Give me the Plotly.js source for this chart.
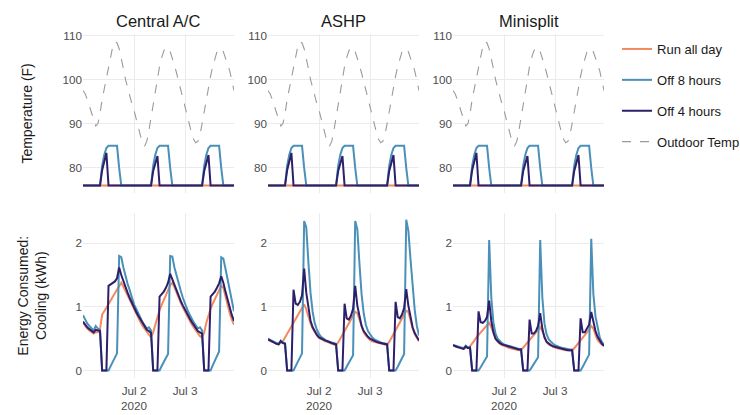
<!DOCTYPE html>
<html><head><meta charset="utf-8">
<script src="https://cdn.plot.ly/plotly-3.0.1.min.js"></script>
<style>html,body{margin:0;padding:0;background:#fff}#chart{width:740px;height:415px}</style>
</head><body><div id="chart"></div>
<script>
// ---------- data ----------
const systems = ['Central A/C', 'ASHP', 'Minisplit'];
const scenarios = ['Run all day', 'Off 8 hours', 'Off 4 hours'];
const outdoorName = 'Outdoor Temp';
const nHours = 72; // hourly, 2020-07-01 00:00 .. 2020-07-03 23:00
const xTickVals = ['2020-07-02 00:00', '2020-07-03 00:00'];
const xTickText = ['Jul 2<br>2020', 'Jul 3'];
const tempTicks = [80, 90, 100, 110];
const energyTicks = [0, 1, 2];

const outdoorTemp = [
  97.5,96.8,95.5,94,92.5,90.8, 89.5,90,92.3,95.5,98,100.5, 103,105.3,107.5,108.6,108.3,107, 105,102.5,100,98,96.2,94.5,
  93,91,89,87,85.5,85, 86,88.5,91.5,94.5,97.5,100.5, 103,105,106.5,107.3,107.2,106.3, 105,103.3,101.5,99.5,97.5,95.5,
  93.5,91.5,89.5,88,86.5,85.7, 86,87.5,90,92.8,95.5,98.2, 100.8,103,105,106.3,107,107, 106.3,105,103.5,102,99.8,97.5
];
const indoorRunAllDay = [
  76,76,76,76,76,76, 76,76,76,76,76,76, 76,76,76,76,76,76, 76,76,76,76,76,76,
  76,76,76,76,76,76, 76,76,76,76,76,76, 76,76,76,76,76,76, 76,76,76,76,76,76,
  76,76,76,76,76,76, 76,76,76,76,76,76, 76,76,76,76,76,76, 76,76,76,76,76,76
];
const indoorOff8 = [
  76,76,76,76,76,76, 76,76,76,80.5,83,84.5, 85,85,85,85,85,80, 76,76,76,76,76,76,
  76,76,76,76,76,76, 76,76,76,80.5,83,84.5, 85,85,85,85,85,80, 76,76,76,76,76,76,
  76,76,76,76,76,76, 76,76,76,80.5,83,84.5, 85,85,85,85,85,80, 76,76,76,76,76,76
];
const indoorOff4 = [
  76,76,76,76,76,76, 76,76,76,79.5,81.8,83.4, 76,76,76,76,76,76, 76,76,76,76,76,76,
  76,76,76,76,76,76, 76,76,76,79.3,81.3,82.7, 76,76,76,76,76,76, 76,76,76,76,76,76,
  76,76,76,76,76,76, 76,76,76,79.3,81.4,82.9, 76,76,76,76,76,76, 76,76,76,76,76,76
];

const centralRunAllDay = [
  0.75,0.70,0.66,0.63,0.60,0.58, 0.60,0.60,0.65,0.88,0.93,0.98, 1.04,1.10,1.16,1.22,1.28,1.34, 1.38,1.32,1.25,1.17,1.10,1.02,
  0.95,0.88,0.82,0.76,0.70,0.65, 0.60,0.55,0.52,0.60,0.72,0.85, 0.95,1.03,1.10,1.18,1.26,1.34, 1.38,1.31,1.22,1.14,1.06,0.99,
  0.92,0.85,0.79,0.73,0.68,0.63, 0.58,0.54,0.52,0.60,0.75,0.88, 0.97,1.05,1.12,1.20,1.27,1.33, 1.30,1.15,1.02,0.90,0.80,0.72
];
const centralOff8 = [
  0.87,0.80,0.74,0.70,0.66,0.63, 0.70,0.66,0.64,0,0,0, 0,0.07,0.14,0.20,0.27,1.80, 1.78,1.62,1.48,1.36,1.26,1.14,
  1.04,0.97,0.89,0.82,0.76,0.71, 0.66,0.68,0.63,0,0,0, 0,0.07,0.14,0.20,0.26,1.80, 1.79,1.62,1.48,1.36,1.25,1.14,
  1.04,0.96,0.89,0.82,0.76,0.71, 0.66,0.68,0.63,0,0,0, 0,0.08,0.15,0.22,0.30,1.78, 1.76,1.60,1.42,1.25,1.08,0.93
];
const centralOff4 = [
  0.77,0.72,0.68,0.65,0.62,0.60, 0.64,0.63,0.62,0,0,0, 1.33,1.35,1.37,1.40,1.45,1.62, 1.50,1.40,1.31,1.22,1.14,1.06,
  0.98,0.92,0.86,0.80,0.74,0.69, 0.64,0.62,0.59,0,0,0, 1.16,1.20,1.24,1.30,1.38,1.52, 1.43,1.34,1.25,1.17,1.09,1.02,
  0.95,0.89,0.83,0.77,0.72,0.67, 0.62,0.60,0.58,0,0,0, 1.16,1.20,1.24,1.30,1.37,1.48, 1.38,1.24,1.10,0.98,0.87,0.78
];
const ashpRunAllDay = [
  0.48,0.47,0.45,0.44,0.42,0.41, 0.44,0.46,0.52,0.58,0.64,0.70, 0.76,0.82,0.88,0.94,1.00,1.04, 0.96,0.84,0.74,0.66,0.60,0.55,
  0.51,0.49,0.47,0.46,0.45,0.43, 0.42,0.41,0.40,0.44,0.50,0.56, 0.62,0.68,0.74,0.80,0.86,0.92, 0.90,0.80,0.68,0.60,0.55,0.51,
  0.48,0.46,0.45,0.44,0.43,0.42, 0.41,0.41,0.40,0.45,0.51,0.57, 0.63,0.69,0.75,0.81,0.87,0.94, 0.92,0.78,0.66,0.57,0.51,0.46
];
const ashpOff8 = [
  0.50,0.48,0.47,0.45,0.43,0.42, 0.47,0.44,0.43,0,0,0, 0,0.07,0.14,0.20,0.27,2.35, 2.25,1.70,1.22,0.92,0.74,0.64,
  0.57,0.53,0.50,0.48,0.46,0.45, 0.43,0.43,0.42,0,0,0, 0,0.06,0.12,0.18,0.24,2.35, 2.22,1.68,1.20,0.90,0.72,0.62,
  0.56,0.52,0.49,0.47,0.45,0.44, 0.43,0.43,0.42,0,0,0, 0,0.06,0.13,0.19,0.26,2.37, 2.20,1.75,1.30,0.95,0.70,0.55
];
const ashpOff4 = [
  0.49,0.47,0.46,0.44,0.42,0.41, 0.46,0.43,0.42,0,0,0, 1.27,1.05,1.03,1.08,1.18,1.60, 1.22,0.96,0.78,0.68,0.61,0.56,
  0.52,0.50,0.48,0.47,0.46,0.44, 0.43,0.42,0.41,0,0,0, 1.05,0.82,0.80,0.86,0.97,1.33, 1.02,0.84,0.70,0.62,0.57,0.53,
  0.50,0.48,0.46,0.45,0.44,0.43, 0.42,0.42,0.41,0,0,0, 1.08,0.84,0.82,0.88,0.98,1.28, 1.02,0.82,0.68,0.59,0.52,0.47
];
const minisplitRunAllDay = [
  0.39,0.38,0.37,0.36,0.35,0.34, 0.36,0.36,0.38,0.42,0.47,0.52, 0.56,0.60,0.64,0.68,0.72,0.75, 0.68,0.58,0.50,0.45,0.42,0.40,
  0.39,0.37,0.36,0.35,0.34,0.33, 0.33,0.32,0.32,0.36,0.40,0.44, 0.48,0.52,0.56,0.60,0.64,0.68, 0.62,0.52,0.45,0.41,0.39,0.37,
  0.36,0.35,0.34,0.33,0.33,0.32, 0.32,0.31,0.31,0.35,0.39,0.43, 0.47,0.52,0.56,0.60,0.64,0.70, 0.66,0.56,0.48,0.44,0.41,0.38
];
const minisplitOff8 = [
  0.40,0.39,0.38,0.37,0.35,0.35, 0.39,0.36,0.37,0,0,0, 0,0.05,0.10,0.16,0.22,2.05, 1.15,0.75,0.58,0.50,0.46,0.43,
  0.41,0.40,0.38,0.37,0.36,0.35, 0.35,0.34,0.34,0,0,0, 0,0.05,0.10,0.15,0.21,2.05, 1.15,0.74,0.57,0.49,0.45,0.42,
  0.40,0.38,0.37,0.36,0.35,0.34, 0.34,0.33,0.33,0,0,0, 0,0.06,0.12,0.18,0.25,2.07, 1.20,0.85,0.65,0.52,0.45,0.40
];
const minisplitOff4 = [
  0.40,0.38,0.37,0.36,0.35,0.34, 0.38,0.35,0.36,0,0,0, 0.93,0.76,0.75,0.78,0.84,1.10, 0.78,0.60,0.50,0.46,0.43,0.41,
  0.40,0.38,0.37,0.36,0.35,0.34, 0.33,0.33,0.33,0,0,0, 0.80,0.58,0.58,0.62,0.70,0.90, 0.66,0.52,0.45,0.42,0.40,0.38,
  0.37,0.36,0.35,0.34,0.33,0.33, 0.32,0.32,0.32,0,0,0, 0.82,0.60,0.60,0.65,0.72,0.92, 0.75,0.62,0.53,0.47,0.42,0.39
];

// ---------- assembly ----------
const energyBySystem = [
  [centralRunAllDay, centralOff8, centralOff4],
  [ashpRunAllDay, ashpOff8, ashpOff4],
  [minisplitRunAllDay, minisplitOff8, minisplitOff4]
];
const indoorByScenario = [indoorRunAllDay, indoorOff8, indoorOff4];
const colors = ['#F28A60', '#4A90B8', '#2E1F6B'];

function stamp(i) {
  const d = 1 + Math.floor(i / 24), h = i % 24;
  return '2020-07-0' + d + ' ' + String(h).padStart(2, '0') + ':00';
}
const times = [];
for (let i = 0; i < nHours; i++) times.push(stamp(i));

const traces = [];
for (let c = 0; c < 3; c++) {
  const xt = 'x' + (c + 1), yt = 'y' + (c + 1);
  const xb = 'x' + (c + 4), yb = 'y' + (c + 4);
  for (let s = 0; s < 3; s++) {
    traces.push({x: times, y: indoorByScenario[s], xaxis: xt, yaxis: yt, type: 'scatter', mode: 'lines',
      name: scenarios[s], legendgroup: scenarios[s], showlegend: c === 0,
      line: {color: colors[s], width: 2}});
  }
  traces.push({x: times, y: outdoorTemp, xaxis: xt, yaxis: yt, type: 'scatter', mode: 'lines',
    name: outdoorName, legendgroup: outdoorName, showlegend: c === 0,
    line: {color: '#9a9a9a', width: 1.1, dash: 'dash'}});
  for (let s = 0; s < 3; s++) {
    traces.push({x: times, y: energyBySystem[c][s], xaxis: xb, yaxis: yb, type: 'scatter', mode: 'lines',
      name: scenarios[s], legendgroup: scenarios[s], showlegend: false,
      line: {color: colors[s], width: 2}});
  }
}

const colDomains = [[0, 0.2898], [0.3551, 0.6449], [0.7102, 1]];
const topDomain = [0.5384, 1], bottomDomain = [0, 0.4782];
const xRange = [times[0], times[nHours - 1]];
const tickFont = {size: 11.7, color: '#4D4D4D'};
const gridColor = '#EBEBEB';

const layout = {
  width: 740, height: 415,
  margin: {l: 83, r: 136, t: 34, b: 37, autoexpand: false},
  paper_bgcolor: '#fff', plot_bgcolor: '#fff',
  font: {family: 'Liberation Sans, Arial, sans-serif', color: '#1a1a1a'},
  showlegend: true,
  legend: {x: 1.025, y: 1, xanchor: 'left', yanchor: 'top', font: {size: 13, color: '#1a1a1a'},
    tracegroupgap: 11, bgcolor: 'rgba(0,0,0,0)'},
  annotations: []
};
for (let c = 0; c < 3; c++) {
  const common = {type: 'date', range: xRange, domain: colDomains[c], tickvals: xTickVals, ticktext: xTickText,
    showgrid: true, gridcolor: gridColor, gridwidth: 1, zeroline: false, showline: false, ticks: '',
    tickfont: tickFont, ticklabelstandoff: 4};
  layout['xaxis' + (c === 0 ? '' : c + 1)] = Object.assign({}, common, {anchor: 'y' + (c + 1), showticklabels: false});
  layout['xaxis' + (c + 4)] = Object.assign({}, common, {anchor: 'y' + (c + 4), showticklabels: true});
  layout['yaxis' + (c === 0 ? '' : c + 1)] = {anchor: 'x' + (c + 1), domain: topDomain, range: [74.37, 110.33],
    tickvals: tempTicks, showgrid: true, gridcolor: gridColor, zeroline: false, showline: false, ticks: '', tickfont: tickFont};
  layout['yaxis' + (c + 4)] = {anchor: 'x' + (c + 4), domain: bottomDomain, range: [-0.1175, 2.4675],
    tickvals: energyTicks, showgrid: true, gridcolor: gridColor, zeroline: false, showline: false, ticks: '', tickfont: tickFont};
  layout.annotations.push({text: systems[c], xref: 'paper', yref: 'paper',
    x: (colDomains[c][0] + colDomains[c][1]) / 2, y: 1.038, xanchor: 'center', yanchor: 'middle',
    showarrow: false, font: {size: 16.5, color: '#1a1a1a'}});
}
layout.yaxis.title = {text: 'Temperature (F)', font: {size: 14, color: '#1a1a1a'}, standoff: 26};
layout.yaxis4.title = {text: 'Energy Consumed:<br>Cooling (kWh)', font: {size: 14, color: '#1a1a1a'}, standoff: 25};

Plotly.newPlot('chart', traces, layout, {displayModeBar: false, responsive: false});
</script>
</body></html>
